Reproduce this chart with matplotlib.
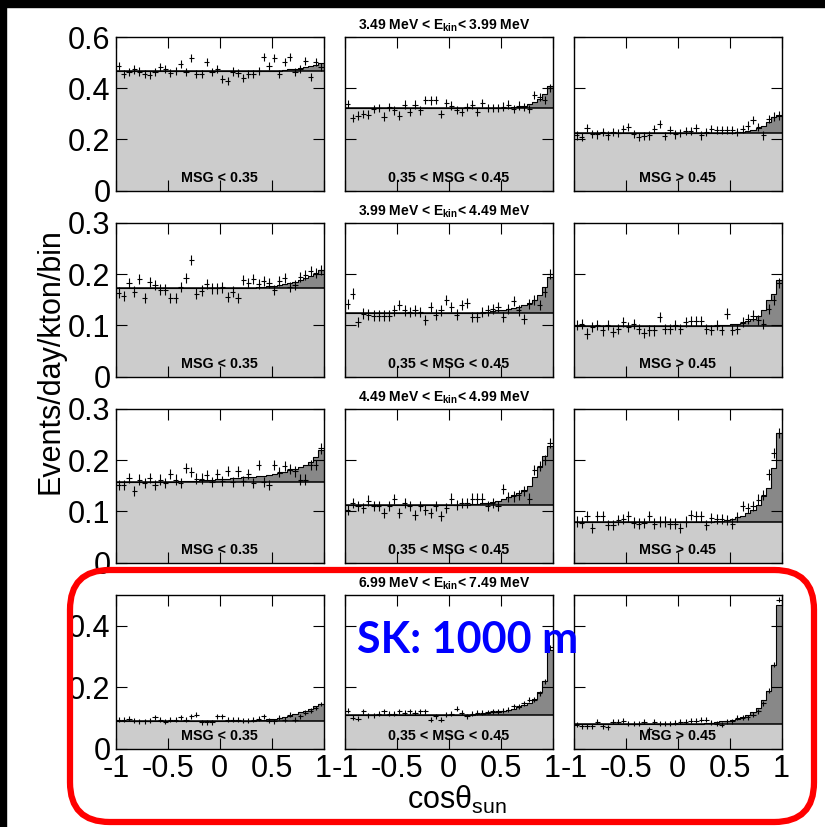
import numpy as np
import matplotlib.pyplot as plt
from matplotlib.patches import FancyBboxPatch, Rectangle

plt.rcParams['font.family'] = ['Liberation Sans', 'DejaVu Sans']
plt.rcParams['mathtext.fontset'] = 'custom'
plt.rcParams['mathtext.rm'] = 'Liberation Sans'
plt.rcParams['mathtext.bf'] = 'Liberation Sans:bold'
plt.rcParams['mathtext.it'] = 'Liberation Sans:italic'

# energy bins (one per row) and MSG bins (one per column)
energy_titles = ['3.49 MeV < E$_{\\mathbf{kin}}$< 3.99 MeV',
                 '3.99 MeV < E$_{\\mathbf{kin}}$< 4.49 MeV',
                 '4.49 MeV < E$_{\\mathbf{kin}}$< 4.99 MeV',
                 '6.99 MeV < E$_{\\mathbf{kin}}$< 7.49 MeV']
msg_labels = ['MSG < 0.35', '0.35 < MSG < 0.45', 'MSG > 0.45']
row_ymax = [0.6, 0.3, 0.3, 0.5]
row_yticks = [[0, 0.2, 0.4, 0.6], [0, 0.1, 0.2, 0.3], [0, 0.1, 0.2, 0.3], [0, 0.2, 0.4]]
row_yticklabels = [['0', '0.2', '0.4', '0.6'], ['0', '0.1', '0.2', '0.3'],
                   ['0', '0.1', '0.2', '0.3'], ['0', '0.2', '0.4']]
row_err = [0.016, 0.01, 0.01, 0.008]

# flat background level per panel (row-major)
bkg = [0.469, 0.323, 0.226,
       0.172, 0.125, 0.098,
       0.158, 0.112, 0.080,
       0.091, 0.110, 0.080]

# solar signal above background, last bins up to cos = 1
sig_r1c1 = [0.002, 0.004, 0.006, 0.009, 0.012, 0.016, 0.02, 0.028]
sig_r1c2 = [0.003, 0.005, 0.009, 0.016, 0.022, 0.035, 0.055, 0.087]
sig_r1c3 = [0.002, 0.003, 0.006, 0.011, 0.019, 0.028, 0.041, 0.061, 0.071]
sig_r2c1 = [0.001, 0.002, 0.003, 0.004, 0.005, 0.006, 0.008, 0.010, 0.013, 0.016, 0.020, 0.024, 0.028, 0.036]
sig_r2c2 = [0.002, 0.003, 0.004, 0.005, 0.007, 0.009, 0.011, 0.014, 0.019, 0.025, 0.035, 0.05, 0.07]
sig_r2c3 = [0.001, 0.002, 0.003, 0.004, 0.005, 0.007, 0.01, 0.015, 0.021, 0.032, 0.051, 0.064, 0.09]
sig_r3c1 = [0.001, 0.001, 0.002, 0.002, 0.003, 0.004, 0.004, 0.005, 0.006, 0.006, 0.007, 0.008, 0.009, 0.009,
            0.010, 0.011, 0.012, 0.013, 0.015, 0.017, 0.019, 0.022, 0.025, 0.028, 0.033, 0.039, 0.049, 0.062]
sig_r3c2 = [0.001, 0.002, 0.003, 0.004, 0.005, 0.007, 0.009, 0.012, 0.016, 0.019, 0.024, 0.03, 0.038, 0.055,
            0.075, 0.097, 0.116]
sig_r3c3 = [0.001, 0.002, 0.003, 0.005, 0.008, 0.011, 0.017, 0.023, 0.033, 0.049, 0.065, 0.105, 0.173]
sig_r4c1 = [0.001, 0.002, 0.004, 0.006, 0.009, 0.012, 0.016, 0.022, 0.027, 0.032, 0.039, 0.046, 0.054]
sig_r4c2 = [0.002, 0.004, 0.006, 0.008, 0.01, 0.013, 0.016, 0.02, 0.024, 0.031, 0.038, 0.05, 0.075, 0.11, 0.21]
sig_r4c3 = [0.002, 0.004, 0.006, 0.009, 0.011, 0.014, 0.017, 0.022, 0.028, 0.039, 0.052, 0.079, 0.108, 0.193, 0.388]

# measured rates per bin (40 bins in cos theta_sun)
data_r1c1 = [0.488, 0.456, 0.463, 0.473, 0.465, 0.454, 0.450, 0.463, 0.482, 0.476,
             0.459, 0.467, 0.495, 0.463, 0.519, 0.456, 0.454, 0.502, 0.463, 0.476,
             0.437, 0.428, 0.465, 0.459, 0.441, 0.456, 0.456, 0.467, 0.522, 0.488,
             0.518, 0.454, 0.502, 0.522, 0.463, 0.476, 0.506, 0.443, 0.502, 0.482]
data_r1c2 = [0.339, 0.284, 0.293, 0.300, 0.297, 0.319, 0.323, 0.289, 0.326, 0.313,
             0.293, 0.336, 0.306, 0.336, 0.313, 0.355, 0.352, 0.355, 0.300, 0.342,
             0.332, 0.316, 0.306, 0.326, 0.336, 0.306, 0.342, 0.323, 0.323, 0.323,
             0.328, 0.336, 0.319, 0.332, 0.326, 0.319, 0.372, 0.367, 0.355, 0.402]
data_r1c3 = [0.215, 0.209, 0.245, 0.222, 0.219, 0.228, 0.215, 0.228, 0.224, 0.241,
             0.248, 0.222, 0.209, 0.212, 0.215, 0.241, 0.261, 0.212, 0.235, 0.219,
             0.224, 0.232, 0.232, 0.244, 0.215, 0.228, 0.241, 0.235, 0.235, 0.235,
             0.235, 0.228, 0.241, 0.254, 0.276, 0.248, 0.215, 0.280, 0.289, 0.293]
data_r2c1 = [0.164, 0.157, 0.183, 0.166, 0.190, 0.153, 0.185, 0.179, 0.170, 0.170,
             0.153, 0.153, 0.175, 0.192, 0.227, 0.162, 0.168, 0.181, 0.172, 0.172,
             0.174, 0.156, 0.166, 0.153, 0.188, 0.183, 0.190, 0.181, 0.187, 0.182,
             0.169, 0.187, 0.192, 0.175, 0.179, 0.194, 0.198, 0.206, 0.203, 0.208]
data_r2c2 = [0.142, 0.162, 0.106, 0.123, 0.121, 0.119, 0.119, 0.119, 0.119, 0.129,
             0.139, 0.129, 0.126, 0.129, 0.126, 0.111, 0.136, 0.121, 0.129, 0.149,
             0.136, 0.121, 0.139, 0.143, 0.116, 0.116, 0.126, 0.129, 0.132, 0.136,
             0.117, 0.132, 0.147, 0.129, 0.113, 0.142, 0.150, 0.139, 0.165, 0.201]
data_r2c3 = [0.100, 0.102, 0.084, 0.097, 0.100, 0.090, 0.100, 0.087, 0.093, 0.106,
             0.097, 0.102, 0.093, 0.085, 0.090, 0.090, 0.116, 0.093, 0.093, 0.100,
             0.093, 0.106, 0.108, 0.108, 0.108, 0.093, 0.091, 0.100, 0.091, 0.123,
             0.091, 0.093, 0.106, 0.113, 0.119, 0.110, 0.102, 0.132, 0.149, 0.183]
data_r3c1 = [0.151, 0.151, 0.165, 0.140, 0.162, 0.155, 0.165, 0.151, 0.162, 0.155,
             0.173, 0.162, 0.155, 0.184, 0.177, 0.164, 0.164, 0.171, 0.157, 0.173,
             0.160, 0.179, 0.157, 0.178, 0.160, 0.173, 0.155, 0.191, 0.157, 0.151,
             0.191, 0.177, 0.188, 0.182, 0.178, 0.162, 0.162, 0.190, 0.191, 0.223]
data_r3c2 = [0.102, 0.117, 0.111, 0.106, 0.121, 0.111, 0.110, 0.097, 0.110, 0.124,
             0.097, 0.117, 0.111, 0.093, 0.111, 0.103, 0.097, 0.110, 0.091, 0.106,
             0.125, 0.112, 0.117, 0.117, 0.125, 0.125, 0.125, 0.111, 0.116, 0.110,
             0.143, 0.128, 0.129, 0.132, 0.139, 0.125, 0.181, 0.189, 0.201, 0.234]
data_r3c3 = [0.080, 0.078, 0.091, 0.067, 0.091, 0.091, 0.074, 0.074, 0.083, 0.085,
             0.090, 0.078, 0.076, 0.077, 0.091, 0.076, 0.080, 0.080, 0.076, 0.076,
             0.067, 0.080, 0.093, 0.090, 0.090, 0.074, 0.087, 0.085, 0.085, 0.083,
             0.076, 0.089, 0.111, 0.106, 0.110, 0.123, 0.132, 0.172, 0.214, 0.253]
data_r4c1 = [0.094, 0.094, 0.097, 0.091, 0.089, 0.089, 0.091, 0.102, 0.094, 0.087,
             0.094, 0.094, 0.102, 0.094, 0.105, 0.110, 0.085, 0.085, 0.085, 0.105,
             0.105, 0.094, 0.094, 0.094, 0.091, 0.091, 0.094, 0.097, 0.105, 0.091,
             0.089, 0.100, 0.094, 0.110, 0.094, 0.105, 0.116, 0.123, 0.132, 0.145]
data_r4c2 = [0.123, 0.100, 0.097, 0.121, 0.108, 0.108, 0.113, 0.121, 0.113, 0.113,
             0.121, 0.116, 0.121, 0.116, 0.121, 0.121, 0.094, 0.105, 0.094, 0.110,
             0.113, 0.130, 0.116, 0.105, 0.113, 0.116, 0.116, 0.119, 0.121, 0.121,
             0.123, 0.127, 0.137, 0.137, 0.148, 0.159, 0.159, 0.180, 0.219, 0.330]
data_r4c3 = [0.078, 0.073, 0.073, 0.073, 0.087, 0.073, 0.069, 0.087, 0.087, 0.091,
             0.080, 0.080, 0.080, 0.087, 0.062, 0.087, 0.080, 0.080, 0.080, 0.084,
             0.087, 0.087, 0.091, 0.091, 0.094, 0.094, 0.084, 0.080, 0.078, 0.089,
             0.089, 0.100, 0.100, 0.102, 0.110, 0.121, 0.148, 0.188, 0.273, 0.484]

signals = [sig_r1c1, sig_r1c2, sig_r1c3, sig_r2c1, sig_r2c2, sig_r2c3,
           sig_r3c1, sig_r3c2, sig_r3c3, sig_r4c1, sig_r4c2, sig_r4c3]
datas = [data_r1c1, data_r1c2, data_r1c3, data_r2c1, data_r2c2, data_r2c3,
         data_r3c1, data_r3c2, data_r3c3, data_r4c1, data_r4c2, data_r4c3]

nbins = 40
edges = np.linspace(-1, 1, nbins + 1)
centers = 0.5 * (edges[1:] + edges[:-1])

W, H = 825, 827
fig = plt.figure(figsize=(W / 100, H / 100), dpi=100)

col_left = [116, 345, 574]
row_top = [37, 223, 409, 595]
pw, ph = 207.5, 153.5

light = '#cccccc'
dark = '#888888'

for r in range(4):
    for c in range(3):
        i = r * 3 + c
        ax = fig.add_axes([col_left[c] / W, 1 - (row_top[r] + ph) / H, pw / W, ph / H])
        b = bkg[i]
        sig = np.zeros(nbins)
        sig[nbins - len(signals[i]):] = signals[i]
        total = b + sig

        ax.axhspan(0, b, color=light, lw=0, zorder=0)
        ax.stairs(total, edges, baseline=b, fill=True, color=dark, lw=0, zorder=1)
        ax.stairs(total, edges, baseline=None, color='black', lw=0.8, zorder=2)
        ax.axhline(b, color='black', lw=1.1, zorder=2)
        ax.errorbar(centers, datas[i], xerr=0.025, yerr=row_err[r], fmt='none',
                    ecolor='black', elinewidth=0.8, zorder=3)

        ax.set_xlim(-1, 1)
        ax.set_ylim(0, row_ymax[r])
        ax.set_xticks([-1, -0.5, 0, 0.5, 1])
        ax.set_yticks(row_yticks[r])
        ax.tick_params(direction='in', top=True, right=True, length=8, width=0.8,
                       labelsize=22, pad=4)
        if r == 3:
            ax.set_xticklabels(['-1', '-0.5', '0', '0.5', '1'])
        else:
            ax.set_xticklabels([])
        if c == 0:
            ax.set_yticklabels(row_yticklabels[r])
        else:
            ax.set_yticklabels([])
        for s in ax.spines.values():
            s.set_linewidth(1.0)

        ax.text(0.5, 0.08, msg_labels[c], transform=ax.transAxes, ha='center',
                va='center', fontsize=10.3, fontweight='bold', zorder=4)
        if c == 1:
            ax.text(0.48, 1.02, energy_titles[r], transform=ax.transAxes, ha='center',
                    va='bottom', fontsize=10, fontweight='bold')

fig.text(50 / W, 1 - 361 / H, 'Events/day/kton/bin', rotation=90, ha='center',
         va='center', fontsize=22)
fig.text(457 / W, 1 - 800 / H, 'cos\u03b8$_{\\mathrm{sun}}$', ha='center', va='center',
         fontsize=22)

# slide decorations
fig.patches.append(Rectangle((0, 0), 6 / W, 1, transform=fig.transFigure,
                             color='black', zorder=20))
fig.patches.append(Rectangle((0, 1 - 7 / H), 1, 7 / H, transform=fig.transFigure,
                             color='black', zorder=20))
fig.patches.append(FancyBboxPatch((70 / W, 5 / H), 744 / W, 252 / H,
                                  boxstyle='round,pad=0,rounding_size=0.048',
                                  transform=fig.transFigure, fill=False,
                                  edgecolor='#ff0000', lw=4.5, zorder=20))
fig.text(468 / W, 1 - 640 / H, 'SK: 1000 m', color='#0000ff', fontsize=31,
         fontweight='bold', family='Lato', ha='center', va='center', zorder=21)

fig.savefig('out.png', dpi=100)
